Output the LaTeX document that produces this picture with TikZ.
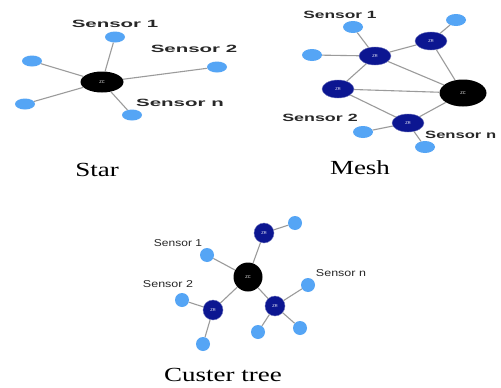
\documentclass[tikz,border=0pt]{standalone}
\usepackage{fontspec}
\usepackage{graphicx}
\setmainfont{Liberation Serif}
\newfontfamily\labfont{Liberation Sans}
\usetikzlibrary{shapes.geometric}
\definecolor{sensorblue}{RGB}{85,165,245}
\definecolor{zrblue}{RGB}{12,22,145}
\definecolor{edgegray}{RGB}{155,155,155}
\definecolor{labgray}{RGB}{40,40,40}
\tikzset{
  sensor/.style={ellipse,fill=sensorblue,minimum width=20pt,minimum height=11pt,inner sep=0pt},
  tsensor/.style={circle,fill=sensorblue,minimum size=14pt,inner sep=0pt},
  zr/.style={ellipse,fill=zrblue,draw=zrblue!60!white,line width=0.4pt,minimum width=32pt,minimum height=18pt,inner sep=0pt,text=white,font=\labfont\fontsize{4}{4}\selectfont},
  tzr/.style={circle,fill=zrblue,draw=zrblue!60!white,line width=0.4pt,minimum size=20pt,inner sep=0pt,text=white,font=\labfont\fontsize{4}{4}\selectfont},
  zc/.style={ellipse,fill=black,minimum width=43pt,minimum height=21pt,inner sep=0pt,text=white,font=\labfont\fontsize{4}{4}\selectfont},
  link/.style={draw=edgegray,line width=1.1pt},
  slab/.style={text=labgray,font=\labfont\bfseries\fontsize{10.5}{10.5}\selectfont,inner sep=0pt},
  tlab/.style={text=labgray,font=\labfont\fontsize{10}{10}\selectfont,inner sep=0pt},
  captxt/.style={text=black,font=\fontsize{20}{20}\selectfont,inner sep=0pt}
}
\begin{document}
\begin{tikzpicture}[x=1pt,y=-1pt]
\useasboundingbox[fill=white] (0,0) rectangle (501,388);
% ---------- Star ----------
\node[zc] (szc) at (102,82) {ZC};
\node[sensor] (ss1) at (115,37) {};
\node[sensor] (ss2) at (32,61) {};
\node[sensor] (ss3) at (25,104) {};
\node[sensor] (ss4) at (132,115) {};
\node[sensor] (ss5) at (217,67) {};
\foreach \s in {ss1,ss2,ss3,ss4,ss5} \draw[link] (szc) -- (\s);
\node[slab] (st1) at (115,24) {\scalebox{1.95}[1]{Sensor 1}};
\node[slab] (st2) at (194,49) {\scalebox{1.95}[1]{Sensor 2}};
\node[slab] (st3) at (180,103) {\scalebox{1.95}[1]{Sensor n}};
\node[captxt] (stcap) at (97,170) {\scalebox{1.35}[1]{Star}};
% ---------- Mesh ----------
\node[zr] (mr1) at (375,56) {ZR};
\node[zr] (mr2) at (431,41) {ZR};
\node[zr] (mr3) at (338,89) {ZR};
\node[zr] (mr4) at (408,123) {ZR};
\node[zc,minimum width=47pt,minimum height=27pt] (mzc) at (463,93) {ZC};
\node[sensor,minimum height=12pt] (ms1) at (353,27) {};
\node[sensor,minimum height=12pt] (ms2) at (312,55) {};
\node[sensor,minimum height=12pt] (ms3) at (456,20) {};
\node[sensor,minimum height=12pt] (ms4) at (363,132) {};
\node[sensor,minimum height=12pt] (ms5) at (425,147) {};
\draw[link] (mr1) -- (ms1);
\draw[link] (mr1) -- (ms2);
\draw[link] (mr1) -- (mr2);
\draw[link] (mr1) -- (mr3);
\draw[link] (mr1) -- (mzc);
\draw[link] (mr2) -- (ms3);
\draw[link] (mr2) -- (mzc);
\draw[link] (mr3) -- (mzc);
\draw[link] (mr3) -- (mr4);
\draw[link] (mr4) -- (mzc);
\draw[link] (mr4) -- (ms4);
\draw[link] (mr4) -- (ms5);
\node[slab] (mt1) at (340,15) {\scalebox{1.65}[1]{Sensor 1}};
\node[slab] (mt2) at (320,118) {\scalebox{1.7}[1]{Sensor 2}};
\node[slab,anchor=west] (mt3) at (425,135) {\scalebox{1.58}[1]{Sensor n}};
\node[captxt] (mcap) at (360,168) {\scalebox{1.35}[1]{Mesh}};
% ---------- Cluster tree ----------
\node[circle,fill=black,minimum size=29pt,inner sep=0pt,text=white,font=\labfont\fontsize{4}{4}\selectfont] (tzc) at (248,277) {ZC};
\node[tzr] (tr1) at (264,233) {ZR};
\node[tzr] (tr2) at (213,310) {ZR};
\node[tzr] (tr3) at (275,306) {ZR};
\node[tsensor] (ts1) at (295,223) {};
\node[tsensor] (ts2) at (207,255) {};
\node[tsensor] (ts3) at (182,300) {};
\node[tsensor] (ts4) at (203,344) {};
\node[tsensor] (ts5) at (308,285) {};
\node[tsensor] (ts6) at (258,332) {};
\node[tsensor] (ts7) at (300,328) {};
\draw[link] (tzc) -- (tr1);
\draw[link] (tr1) -- (ts1);
\draw[link] (tzc) -- (ts2);
\draw[link] (tzc) -- (tr2);
\draw[link] (tr2) -- (ts3);
\draw[link] (tr2) -- (ts4);
\draw[link] (tzc) -- (tr3);
\draw[link] (tr3) -- (ts5);
\draw[link] (tr3) -- (ts6);
\draw[link] (tr3) -- (ts7);
\node[tlab] (tt1) at (178,243) {\scalebox{1.2}[1]{Sensor 1}};
\node[tlab] (tt2) at (168,284) {\scalebox{1.25}[1]{Sensor 2}};
\node[tlab] (tt3) at (341,273) {\scalebox{1.25}[1]{Sensor n}};
\node[captxt] (tcap) at (223,375) {\scalebox{1.35}[1]{Custer tree}};
\end{tikzpicture}
\end{document}
